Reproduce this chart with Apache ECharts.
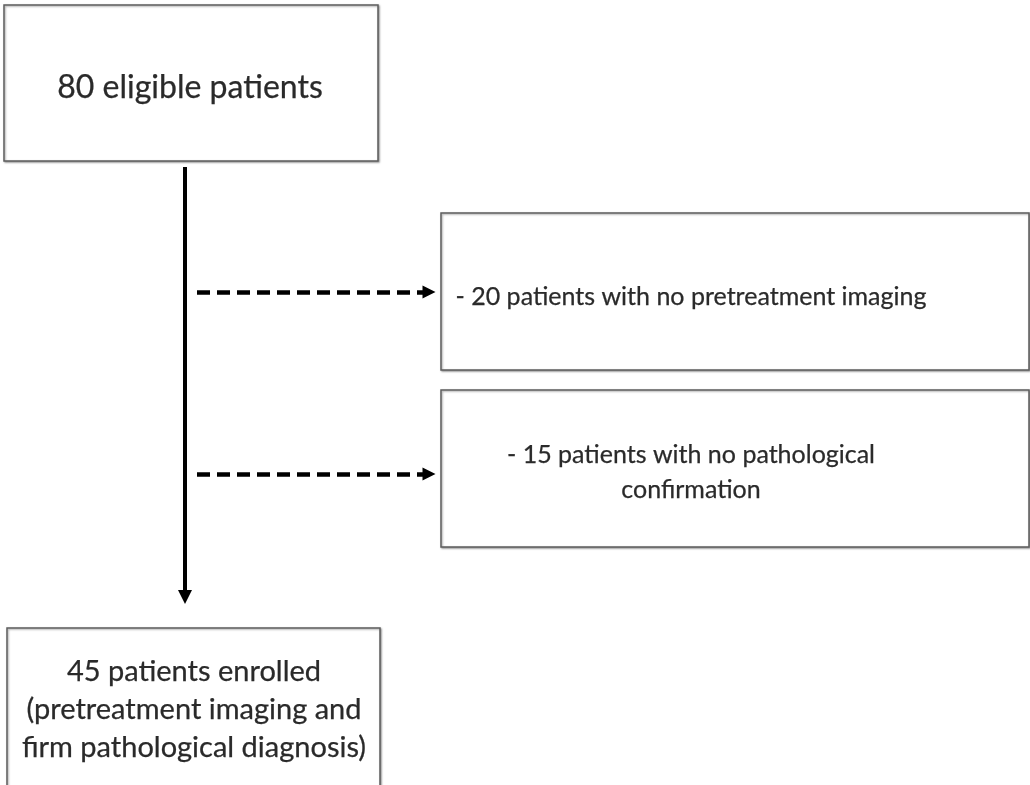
<!DOCTYPE html>
<html><head><meta charset="utf-8">
<script src="https://cdn.jsdelivr.net/npm/echarts@6/dist/echarts.min.js"></script>
<style>html,body{margin:0;padding:0;background:#fff}#c{width:1030px;height:785px}</style>
</head><body><div id="c"></div>
<script>
// Flow steps (text content)
const boxTexts = [
  "80 eligible patients",
  "- 20 patients with no pretreatment imaging",
  "- 15 patients with no pathological\nconfirmation",
  "45 patients enrolled\n(pretreatment imaging and\nfirm pathological diagnosis)"
];
// Box rectangles in chart units: [x0, y0, x1, y1]
const boxRects = [
  [4, 5, 378, 161],
  [441, 213, 1029, 370],
  [441, 390, 1029, 547],
  [7, 628, 380, 790]
];
// Text anchor positions [x, y]
const textPos = [
  [190, 88],
  [691, 297],
  [691, 472],
  [194, 710]
];
const fontSizes = [32, 25, 25, 29];
const lineHeights = [34, 34, 35, 38];
// Arrows: [x1, y1, x2, y2]
const solidArrows = [[185, 167, 185, 597]];
const dashedArrows = [[197, 292, 429, 292], [197, 474, 429, 474]];

const chart = echarts.init(document.getElementById('c'), null, {renderer: 'canvas'});
const FONT = 'Lato, "Open Sans", sans-serif';

chart.setOption({
  animation: false,
  backgroundColor: '#ffffff',
  grid: {left: 0, right: 0, top: 0, bottom: 0},
  xAxis: {type: 'value', min: 0, max: 1030, show: false},
  yAxis: {type: 'value', min: 0, max: 785, inverse: true, show: false},
  series: [
    {
      type: 'custom',
      coordinateSystem: 'cartesian2d',
      data: boxRects.map((r, i) => [r[0], r[1], r[2], r[3], i]),
      renderItem: function (params, api) {
        const i = api.value(4);
        const p0 = api.coord([api.value(0), api.value(1)]);
        const p1 = api.coord([api.value(2), api.value(3)]);
        const t = api.coord(textPos[i]);
        return {
          type: 'group',
          children: [
            {
              type: 'rect',
              shape: {x: p0[0], y: p0[1], width: p1[0] - p0[0], height: p1[1] - p0[1]},
              style: {fill: '#ffffff', stroke: '#5e5e5e', lineWidth: 1.5,
                shadowBlur: 2, shadowOffsetX: 1, shadowOffsetY: 1, shadowColor: 'rgba(0,0,0,0.35)'}
            },
            {
              type: 'text',
              x: t[0], y: t[1],
              style: {
                text: boxTexts[i],
                font: fontSizes[i] + 'px ' + FONT,
                fill: '#2a2a2a',
                stroke: '#2a2a2a',
                lineWidth: 0.25,
                align: 'center',
                verticalAlign: 'middle',
                lineHeight: lineHeights[i]
              }
            }
          ]
        };
      }
    },
    {
      type: 'lines',
      coordinateSystem: 'cartesian2d',
      polyline: false,
      symbol: ['none', 'triangle'],
      symbolSize: [14, 14],
      lineStyle: {color: '#000', width: 4, type: 'solid', opacity: 1},
      data: solidArrows.map(a => ({coords: [[a[0], a[1]], [a[2], a[3]]]}))
    },
    {
      type: 'lines',
      coordinateSystem: 'cartesian2d',
      polyline: false,
      symbol: ['none', 'triangle'],
      symbolSize: [13, 13],
      lineStyle: {color: '#000', width: 4.5, type: [13, 7], opacity: 1},
      data: dashedArrows.map(a => ({coords: [[a[0], a[1]], [a[2], a[3]]]}))
    }
  ]
});
</script>
</body></html>
